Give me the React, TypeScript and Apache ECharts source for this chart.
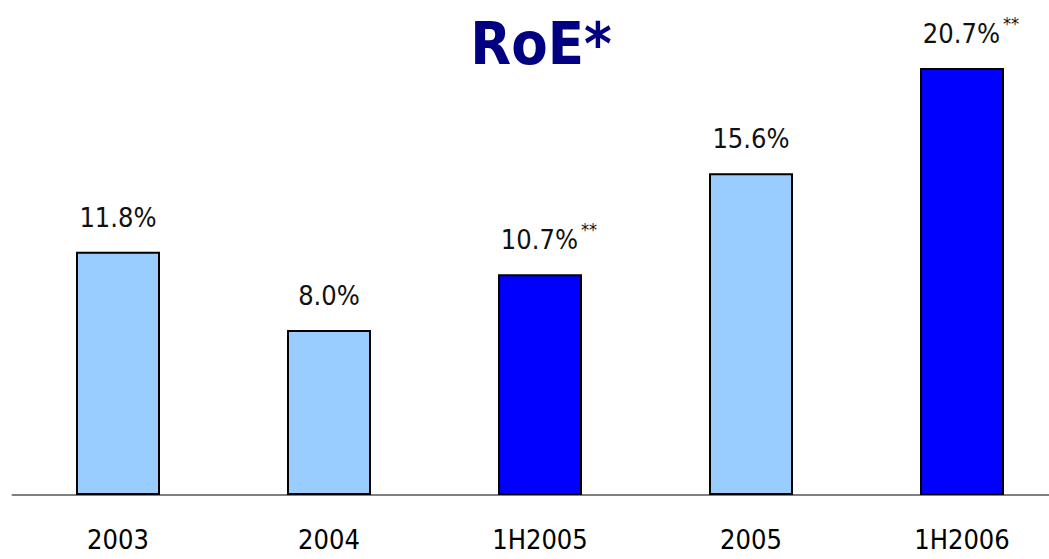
import React, { useEffect, useRef } from "react";
import * as echarts from "echarts";

const categories = ["2003", "2004", "1H2005", "2005", "1H2006"];
const roeValues = [11.8, 8.0, 10.7, 15.6, 20.7];
const highlighted = [false, false, true, false, true];
const starred = [false, false, true, false, true];

const FONT = "'DejaVu Sans Condensed', 'Liberation Sans', sans-serif";

export default function App() {
  const ref = useRef<HTMLDivElement>(null);
  useEffect(() => {
    if (!ref.current) return;
    const chart = echarts.init(ref.current, undefined, { renderer: "svg" });
    const data = roeValues.map((v, i) => ({
      value: v,
      itemStyle: { color: highlighted[i] ? "#0000FF" : "#99CCFF" },
      label: starred[i]
        ? {
            formatter: `{v|${v.toFixed(1)}%}{s|**}`,
            offset: [9, 0],
          }
        : { formatter: `{v|${v.toFixed(1)}%}` },
    }));
    chart.setOption({
      animation: false,
      backgroundColor: "#ffffff",
      graphic: [
        {
          type: "text",
          x: 541,
          y: 43,
          style: {
            text: "RoE*",
            fontFamily: FONT,
            fontWeight: "bold",
            fontSize: 59,
            fill: "#000080",
            align: "center",
            verticalAlign: "middle",
          },
        },
      ],
      grid: { left: 12.5, width: 1055, top: 0, height: 495, outerBoundsMode: "none", containLabel: false },
      xAxis: {
        type: "category",
        data: categories,
        axisTick: { show: false },
        axisLine: { lineStyle: { color: "#808080", width: 2 } },
        axisLabel: { color: "#000", fontSize: 27, fontFamily: FONT, margin: 31 },
        splitLine: { show: false },
      },
      yAxis: {
        type: "value",
        min: 0,
        max: 24,
        show: false,
        splitLine: { show: false },
      },
      series: [
        {
          type: "bar",
          data,
          barWidth: 84,
          itemStyle: { borderColor: "#000", borderWidth: 2 },
          label: {
            show: true,
            position: "top",
            distance: 21,
            color: "#111",
            rich: {
              v: { fontSize: 27, fontFamily: FONT, color: "#111", verticalAlign: "bottom", padding: [6, 0, 0, 0] },
              s: { fontSize: 18, fontFamily: FONT, color: "#111", verticalAlign: "top", padding: [0, 0, 0, 3] },
            },
          },
        },
      ],
    });
    return () => chart.dispose();
  }, []);
  return <div ref={ref} style={{ position: "fixed", left: 0, top: 0, width: 1049, height: 559 }} />;
}
